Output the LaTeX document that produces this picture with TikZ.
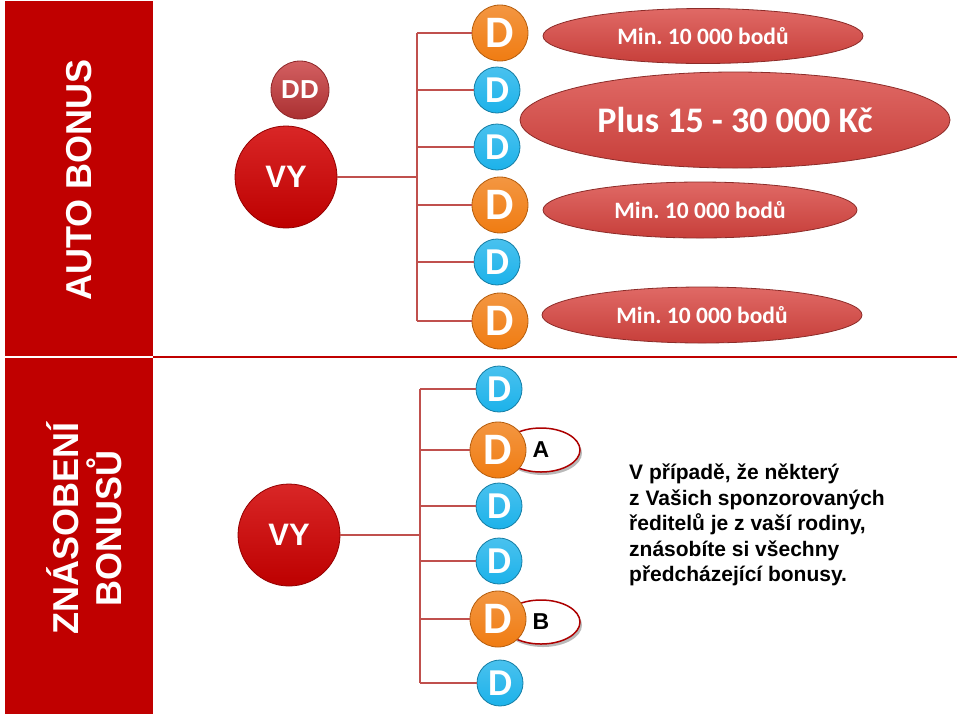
\documentclass[tikz,border=0pt]{standalone}
\usepackage{fontspec}
\setmainfont{Liberation Sans}
\newfontfamily\calfont{Carlito}
\usetikzlibrary{shapes.geometric,shadows}
\definecolor{boxred}{HTML}{C00000}
\definecolor{treered}{HTML}{C0504D}
\definecolor{vyred}{HTML}{D20000}
\definecolor{ddred}{HTML}{C8383A}
\definecolor{pillred}{HTML}{D8443F}
\definecolor{dorange}{HTML}{F07C12}
\definecolor{dblue}{HTML}{1CB2EA}

\begin{document}
\begin{tikzpicture}[x=1pt,y=-1pt,
  redbox/.style={fill=boxred, inner sep=0pt, minimum width=148pt},
  sidelabel/.style={text=white, rotate=90, align=center, font=\bfseries\fontsize{36}{43}\selectfont},
  vy/.style={circle, inner sep=0pt, minimum size=102pt, top color=vyred!85!white, bottom color=vyred!90!black, draw=vyred!70!black, line width=0.8pt, text=white, font=\bfseries\fontsize{31}{31}\selectfont},
  branch/.style={draw=treered, line width=1.6pt},
  dor/.style={circle, inner sep=0pt, minimum size=56pt, top color=dorange!80!white, bottom color=dorange, draw=dorange!75!black, line width=0.8pt, text=white, font=\calfont\bfseries\fontsize{45}{45}\selectfont},
  dbl/.style={circle, inner sep=0pt, minimum size=46pt, top color=dblue!80!white, bottom color=dblue, draw=dblue!70!black, line width=0.8pt, text=white, font=\calfont\bfseries\fontsize{38}{38}\selectfont},
  pill/.style={ellipse, inner sep=0pt, top color=pillred!80!white, bottom color=pillred!92!black, draw=pillred!65!black, line width=0.8pt, text=white, font=\calfont\bfseries\fontsize{23.5}{23.5}\selectfont},
  tag/.style={ellipse, inner sep=0pt, minimum width=78pt, minimum height=44pt, fill=white, draw=boxred!90!black, line width=1.5pt, drop shadow={shadow xshift=2pt, shadow yshift=-3pt, fill=gray!55, opacity=1}, font=\bfseries\fontsize{23}{23}\selectfont}]
\useasboundingbox (0,0) rectangle (960,716);

% left bars
\node[redbox, minimum height=355pt] (abox) at (79,178.5) {};
\node[sidelabel] (alabel) at (79,180) {AUTO BONUS};
\node[redbox, minimum height=356pt] (zbox) at (79,536) {};
\node[sidelabel] (zlabel) at (84,528) {ZNÁSOBENÍ\\BONUSŮ};

\coordinate (sepL) at (153,357);
\coordinate (sepR) at (957,357);
\draw[boxred, line width=2pt] (sepL) -- (sepR);

% auto bonus
\node[circle, inner sep=0pt, minimum size=58pt, top color=ddred!80!white, bottom color=ddred!85!black, draw=ddred!70!black, line width=0.8pt, text=white, font=\bfseries\fontsize{26}{26}\selectfont] (dd) at (300,90) {DD};
\node[vy] (vy1) at (286,177) {VY};

\node[dor] (d1) at (500,33) {D};
\node[dbl] (d2) at (497,90) {D};
\node[dbl] (d3) at (497,147) {D};
\node[dor] (d4) at (500,205) {D};
\node[dbl] (d5) at (497,262) {D};
\node[dor] (d6) at (500,321) {D};

\coordinate (j1) at (417,177);
\draw[branch] (vy1) -- (j1);
\draw[branch] (d1 -| j1) -- (d6 -| j1);
\draw[branch] (d1 -| j1) -- (d1);
\draw[branch] (d2 -| j1) -- (d2);
\draw[branch] (d3 -| j1) -- (d3);
\draw[branch] (d4 -| j1) -- (d4);
\draw[branch] (d5 -| j1) -- (d5);
\draw[branch] (d6 -| j1) -- (d6);

\node[pill, minimum width=320pt, minimum height=55pt] (min1) at (703,36) {Min.\ 10 000 bodů};
\node[pill, minimum width=430pt, minimum height=96pt, font=\calfont\bfseries\fontsize{36}{36}\selectfont] (plus) at (735,120) {Plus 15 - 30 000 Kč};
\node[pill, minimum width=314pt, minimum height=56pt] (min2) at (700,210) {Min.\ 10 000 bodů};
\node[pill, minimum width=320pt, minimum height=56pt] (min3) at (702,315) {Min.\ 10 000 bodů};

% znasobeni
\node[vy] (vy2) at (289,535) {VY};

\node[tag] (tagA) at (541,450) {A};
\node[tag] (tagB) at (541,622) {B};

\node[dbl] (e1) at (499,389) {D};
\node[dor] (e2) at (498,450) {D};
\node[dbl] (e3) at (499,506) {D};
\node[dbl] (e4) at (499,561) {D};
\node[dor] (e5) at (498,619) {D};
\node[dbl] (e6) at (500,683) {D};

\coordinate (j2) at (420,535);
\draw[branch] (vy2) -- (j2);
\draw[branch] (e1 -| j2) -- (e6 -| j2);
\draw[branch] (e1 -| j2) -- (e1);
\draw[branch] (e2 -| j2) -- (e2);
\draw[branch] (e3 -| j2) -- (e3);
\draw[branch] (e4 -| j2) -- (e4);
\draw[branch] (e5 -| j2) -- (e5);
\draw[branch] (e6 -| j2) -- (e6);

\node[anchor=west, align=left, inner sep=0pt, font=\bfseries\fontsize{21}{25.5}\selectfont] (note) at (629,525)
  {V případě, že některý\\z Vašich sponzorovaných\\ředitelů je z vaší rodiny,\\znásobíte si všechny\\předcházející bonusy.};
\end{tikzpicture}
\end{document}
